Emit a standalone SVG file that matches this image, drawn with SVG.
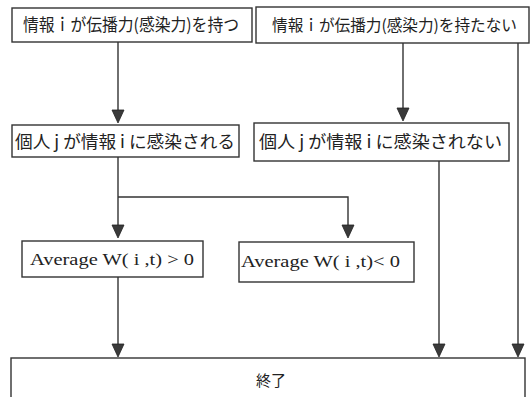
<svg xmlns="http://www.w3.org/2000/svg" width="531" height="397" viewBox="0 0 531 397">
<style>
.box{fill:#fff;stroke:#333;stroke-width:1.4}
.ln{fill:none;stroke:#333;stroke-width:1.4}
.jp{font-family:"Noto Sans CJK JP","Liberation Serif",serif;font-size:17px;fill:#222}
.en{font-family:"Liberation Serif",serif;font-size:17px;fill:#222}
.ah{fill:#3a3a3a;stroke:#222;stroke-width:0.8}
</style>
<defs>
<path id="arr" d="M-6,-13 L6,-13 L0,0 Z"/>
</defs>
<rect width="531" height="397" fill="#fff"/>
<g id="connectors">
<line class="ln" x1="118" y1="42" x2="118" y2="111"/>
<use href="#arr" class="ah" x="118" y="123"/>
<line class="ln" x1="403" y1="43" x2="403" y2="109"/>
<use href="#arr" class="ah" x="403" y="121"/>
<line class="ln" x1="518" y1="43" x2="518" y2="345"/>
<use href="#arr" class="ah" x="518" y="357"/>
<polyline class="ln" points="118,157 118,226"/>
<use href="#arr" class="ah" x="118" y="238"/>
<polyline class="ln" points="118,197 348,197 348,226"/>
<use href="#arr" class="ah" x="348" y="238"/>
<line class="ln" x1="118" y1="277" x2="118" y2="345"/>
<use href="#arr" class="ah" x="118" y="357"/>
<line class="ln" x1="439" y1="161" x2="439" y2="345"/>
<use href="#arr" class="ah" x="439" y="357"/>
</g>
<g id="n1">
<rect class="box" x="12" y="8" width="240" height="34"/>
<text class="jp" x="23" y="31" textLength="216" lengthAdjust="spacingAndGlyphs">情報ｉが伝播力(感染力)を持つ</text>
</g>
<g id="n2">
<rect class="box" x="256" y="7" width="273" height="36"/>
<text class="jp" x="272" y="31" style="font-size:16px" textLength="245" lengthAdjust="spacingAndGlyphs">情報ｉが伝播力(感染力)を持たない</text>
</g>
<g id="n3">
<rect class="box" x="12" y="125" width="227" height="32"/>
<text class="jp" x="15" y="148" textLength="220" lengthAdjust="spacingAndGlyphs">個人 j が情報 i に感染される</text>
</g>
<g id="n4">
<rect class="box" x="254" y="123" width="255" height="38"/>
<text class="jp" x="259" y="148" textLength="243" lengthAdjust="spacingAndGlyphs">個人 j が情報 i に感染されない</text>
</g>
<g id="n5">
<rect class="box" x="22" y="241" width="181" height="36"/>
<text class="en" x="30" y="265" textLength="164" lengthAdjust="spacingAndGlyphs">Average W( i ,t) &gt; 0</text>
</g>
<g id="n6">
<rect class="box" x="239" y="242" width="175" height="40"/>
<text class="en" x="241" y="267" textLength="159" lengthAdjust="spacingAndGlyphs">Average W( i ,t)&lt; 0</text>
</g>
<g id="n7">
<rect class="box" x="11" y="358" width="514" height="60"/>
<text class="jp" x="271" y="386" text-anchor="middle" style="font-size:15px">終了</text>
</g>
</svg>
